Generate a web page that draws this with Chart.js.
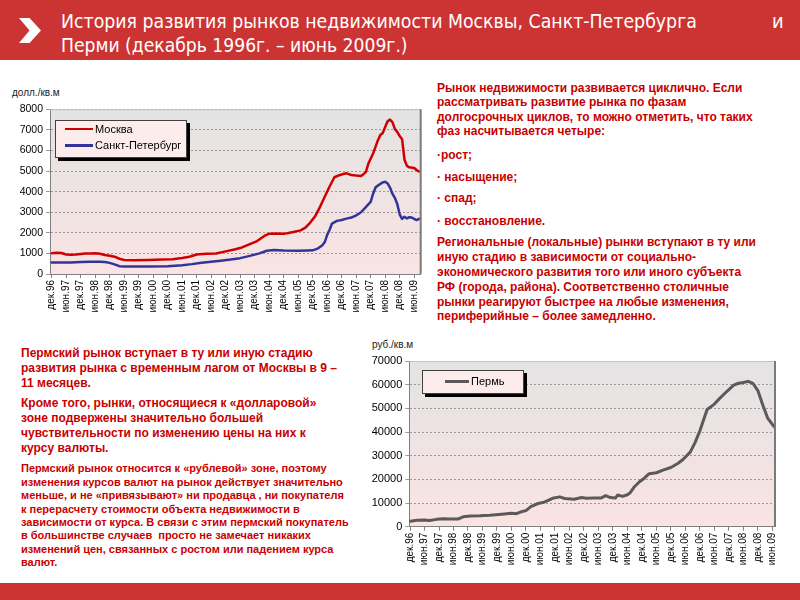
<!DOCTYPE html>
<html><head><meta charset="utf-8">
<script src="https://cdn.jsdelivr.net/npm/chart.js@4"></script>
<style>
body{margin:0;width:800px;height:600px;position:relative;background:#fff;overflow:hidden;font-family:"Liberation Sans",Arial,sans-serif;}
.hdr{position:absolute;left:0;top:0;width:800px;height:60px;background:#cc3333;}
.chev{position:absolute;left:19px;top:18px;width:22px;height:25px;background:#fff;clip-path:polygon(0 0,48% 0,100% 50%,48% 100%,0 100%,48% 50%);}
.t{position:absolute;color:#fff;font-family:"Liberation Sans Narrow","DejaVu Sans Condensed","Liberation Sans",sans-serif;font-size:20px;white-space:nowrap;line-height:20px;transform-origin:0 0;}
.foot{position:absolute;left:0;top:583px;width:800px;height:17px;background:#cc3333;}
.ln{position:absolute;white-space:nowrap;font-weight:bold;color:#c80000;font-family:"Liberation Sans",Arial,sans-serif;}
.r{font-size:12px;line-height:14px;left:437px;}
.l1{font-size:12px;line-height:14px;left:21px;}
.l2{font-size:11px;line-height:13px;left:21px;}
.ax{position:absolute;font-size:10px;color:#222;font-family:"Liberation Sans",Arial,sans-serif;}
.lg{position:absolute;background:#fcecec;border:1px solid #404040;box-shadow:3px 3px 0 #000;}
.lgi{position:absolute;font-size:11px;color:#000;font-family:"Liberation Sans",Arial,sans-serif;white-space:nowrap;line-height:12px;}
.sw{position:absolute;height:2.5px;}
canvas{position:absolute;}
</style></head>
<body>
<div class="hdr"></div>
<div class="chev"></div>
<div class="t" data-w="636" style="left:61px;top:11px;">История развития рынков недвижимости Москвы, Санкт-Петербурга</div>
<div class="t" style="left:772px;top:11px;">и</div>
<div class="t" data-w="347" style="left:61px;top:35px;">Перми (декабрь 1996г. – июнь 2009г.)</div>

<div class="ax" style="left:12px;top:87px;">долл./кв.м</div>
<canvas id="c1" width="430" height="220" style="left:0;top:100px;"></canvas>
<div class="lg" style="left:55px;top:120px;width:130px;height:36px;"></div>
<div class="sw" style="left:65px;top:127.5px;width:28px;background:#d00000;"></div>
<div class="lgi" style="left:95px;top:122.5px;">Москва</div>
<div class="sw" style="left:65px;top:144px;width:28px;background:#333399;"></div>
<div class="lgi" style="left:95px;top:139px;">Санкт-Петербург</div>

<div class="ax" style="left:372px;top:339px;">руб./кв.м</div>
<canvas id="c2" width="430" height="230" style="left:360px;top:350px;"></canvas>
<div class="lg" style="left:422px;top:370px;width:100px;height:22px;"></div>
<div class="sw" style="left:445px;top:380px;width:24px;background:#5a5a5a;"></div>
<div class="lgi" style="left:471px;top:375px;">Пермь</div>

<div class="ln r" style="top:81px;">Рынок недвижимости развивается циклично. Если</div>
<div class="ln r" style="top:95px;">рассматривать развитие рынка по фазам</div>
<div class="ln r" style="top:109.5px;">долгосрочных циклов, то можно отметить, что таких</div>
<div class="ln r" style="top:124px;">фаз насчитывается четыре:</div>
<div class="ln r" style="top:148px;">·рост;</div>
<div class="ln r" style="top:169.5px;">· насыщение;</div>
<div class="ln r" style="top:191px;">· спад;</div>
<div class="ln r" style="top:213.5px;">· восстановление.</div>
<div class="ln r" style="top:235px;">Региональные (локальные) рынки вступают в ту или</div>
<div class="ln r" style="top:250px;">иную стадию в зависимости от социально-</div>
<div class="ln r" style="top:265px;">экономического развития того или иного субъекта</div>
<div class="ln r" style="top:280px;">РФ (города, района). Соответственно столичные</div>
<div class="ln r" style="top:294.5px;">рынки реагируют быстрее на любые изменения,</div>
<div class="ln r" style="top:309px;">периферийные – более замедленно.</div>

<div class="ln l1" style="top:346px;">Пермский рынок вступает в ту или иную стадию</div>
<div class="ln l1" style="top:361px;">развития рынка с временным лагом от Москвы в 9 –</div>
<div class="ln l1" style="top:376px;">11 месяцев.</div>
<div class="ln l1" style="top:396px;">Кроме того, рынки, относящиеся к «долларовой»</div>
<div class="ln l1" style="top:411px;">зоне подвержены значительно большей</div>
<div class="ln l1" style="top:426px;">чувствительности по изменению цены на них к</div>
<div class="ln l1" style="top:441px;">курсу валюты.</div>
<div class="ln l2" style="top:462px;">Пермский рынок относится к «рублевой» зоне, поэтому</div>
<div class="ln l2" style="top:476px;">изменения курсов валют на рынок действует значительно</div>
<div class="ln l2" style="top:489px;">меньше, и не «привязывают» ни продавца , ни покупателя</div>
<div class="ln l2" style="top:502.5px;">к перерасчету стоимости объекта недвижимости в</div>
<div class="ln l2" style="top:516px;">зависимости от курса. В связи с этим пермский покупатель</div>
<div class="ln l2" style="top:529px;">в большинстве случаев&nbsp; просто не замечает никаких</div>
<div class="ln l2" style="top:542.5px;">изменений цен, связанных с ростом или падением курса</div>
<div class="ln l2" style="top:556px;">валют.</div>

<div class="foot"></div>

<script>
// Tick labels (every 6 months), months counted from Dec 1996
const tickLabels = ['дек.96','июн.97','дек.97','июн.98','дек.98','июн.99','дек.99','июн.00','дек.00','июн.01','дек.01','июн.02','дек.02','июн.03','дек.03','июн.04','дек.04','июн.05','дек.05','июн.06','дек.06','июн.07','дек.07','июн.08','дек.08','июн.09'];

const mskMonths = [0,2,4,6,8,10,12,14,16,18,20,22,24,26,28,30,34,40,46,50,54,57,60,64,68,72,76,78,82,85,88,90,93,96,100,103,105,107,109,111,113,115,117,119,121,122,124,126,128,129,130,131,133,135,136,137,138,139,140,141,142,143,144,145,146,147,148,150,151,152];
const mskValues = [1010,1030,1020,950,940,950,970,990,1000,1010,980,920,890,840,740,680,670,680,700,720,780,840,950,980,1000,1100,1200,1260,1450,1600,1850,1960,1970,1950,2040,2120,2250,2500,2800,3250,3750,4250,4700,4800,4870,4890,4810,4780,4760,4850,4950,5350,5850,6500,6750,6850,7140,7420,7500,7380,7050,6900,6700,6550,5550,5250,5180,5150,5050,4980];

const spbMonths = [0,4,8,12,16,20,22,24,26,28,30,40,48,54,58,62,66,70,74,78,82,86,89,92,96,102,106,108,110,112,113,114,115,116,118,120,122,124,126,128,130,131,132,133,134,135,137,138,139,140,141,142,143,144,145,146,147,148,149,150,151,152];
const spbValues = [560,560,560,580,600,600,580,540,470,380,360,360,380,430,480,550,600,645,700,770,880,1000,1130,1160,1140,1130,1140,1150,1230,1400,1550,1900,2150,2450,2580,2620,2690,2740,2850,3000,3250,3380,3500,3900,4200,4300,4450,4480,4400,4200,3900,3700,3400,2900,2680,2780,2700,2760,2740,2680,2620,2680];

const permMonths = [0,3,6,8,11,14,17,20,22,25,29,33,38,42,44,46,48,50,53,55,57,59,62,64,68,71,73,76,79,81,83,85,86,88,90,91,93,95,97,99,102,105,108,111,113,116,118,120,123,126,128,131,134,136,138,140,142,144,146,148,150,151];
const permValues = [2300,2700,2800,2600,3100,3400,3300,3300,4200,4500,4600,4800,5300,5700,5500,6300,6800,8500,9800,10200,11000,12000,12600,11900,11600,12300,12000,12100,12100,13100,12300,12100,13400,12800,13500,14200,17000,19000,20500,22400,22800,24000,25000,26800,28400,31500,35500,40500,49500,51800,54000,57000,59800,60600,60900,61400,60500,57500,51500,46000,43200,42000];

// fit header lines to the reference width
document.querySelectorAll('.t[data-w]').forEach(el => {
  const w = +el.dataset.w;
  el.style.transform = 'scaleX(' + (w / el.offsetWidth) + ')';
});

const pts = (xs, ys) => xs.map((x, i) => ({x, y: ys[i]}));

const bgPlugin = {
  id: 'bg',
  beforeDraw(chart) {
    const {ctx, chartArea: a} = chart;
    const g = ctx.createLinearGradient(0, a.top, 0, a.bottom);
    g.addColorStop(0, '#e4e3e3');
    g.addColorStop(1, '#fae3e3');
    ctx.save();
    ctx.fillStyle = g;
    ctx.fillRect(a.left, a.top, a.right - a.left, a.bottom - a.top);
    ctx.restore();
  },
  afterDraw(chart) {
    const {ctx, chartArea: a} = chart;
    ctx.save();
    ctx.strokeStyle = '#c4c4c4'; ctx.lineWidth = 1;
    ctx.beginPath(); ctx.moveTo(a.left, a.top + 0.5); ctx.lineTo(a.right, a.top + 0.5); ctx.stroke();
    ctx.strokeStyle = '#7a7a7a'; ctx.lineWidth = 2;
    ctx.beginPath(); ctx.moveTo(a.right, a.top); ctx.lineTo(a.right, a.bottom); ctx.stroke();
    ctx.restore();
  }
};

function makeChart(id, datasets, cfg) {
  return new Chart(document.getElementById(id), {
    type: 'line',
    data: {datasets},
    options: {
      responsive: false, animation: false,
      layout: {padding: cfg.pad},
      plugins: {legend: {display: false}, tooltip: {enabled: false}},
      elements: {point: {radius: 0}, line: {tension: 0, borderJoinStyle: 'round', borderCapStyle: 'round'}},
      scales: {
        x: {
          type: 'linear', min: cfg.xMin, max: cfg.xMax,
          afterBuildTicks: s => { s.ticks = tickLabels.map((_, i) => ({value: i * 6})); },
          afterFit: s => { s.height = cfg.xHeight; },
          ticks: {autoSkip: false, maxRotation: 90, minRotation: 90, padding: 2,
                  font: {family: 'Liberation Sans', size: 10}, color: '#000',
                  callback: v => tickLabels[Math.round(v / 6)]},
          grid: {display: true, drawOnChartArea: false, drawTicks: true, tickLength: 4, color: '#808080'},
          border: {display: true, color: '#808080', width: 1}
        },
        y: {
          min: 0, max: cfg.yMax,
          afterFit: s => { s.width = cfg.yWidth; },
          ticks: {stepSize: cfg.yStep, padding: 3, font: {family: 'Liberation Sans', size: cfg.yFont}, color: '#000',
                  callback: v => String(v)},
          grid: {color: '#9a9a9a', drawTicks: true, tickLength: 4},
          border: {display: true, color: '#808080', dash: [2, 2]}
        }
      }
    },
    plugins: [bgPlugin]
  });
}

makeChart('c1', [
  {data: pts(mskMonths, mskValues), borderColor: '#d00000', borderWidth: 2.5},
  {data: pts(spbMonths, spbValues), borderColor: '#333399', borderWidth: 2.5}
], {pad: {left: 0, top: 9, right: 9.3, bottom: 0}, xMin: -0.7, xMax: 152.7, xHeight: 46, yWidth: 50, yMax: 8000, yStep: 1000, yFont: 10.5});

makeChart('c2', [
  {data: pts(permMonths, permValues), borderColor: '#5a5a5a', borderWidth: 3}
], {pad: {left: 0, top: 11, right: 15, bottom: 0}, xMin: -0.3, xMax: 151.1, xHeight: 53.3, yWidth: 49.3, yMax: 70000, yStep: 10000, yFont: 11});
</script>
</body></html>
